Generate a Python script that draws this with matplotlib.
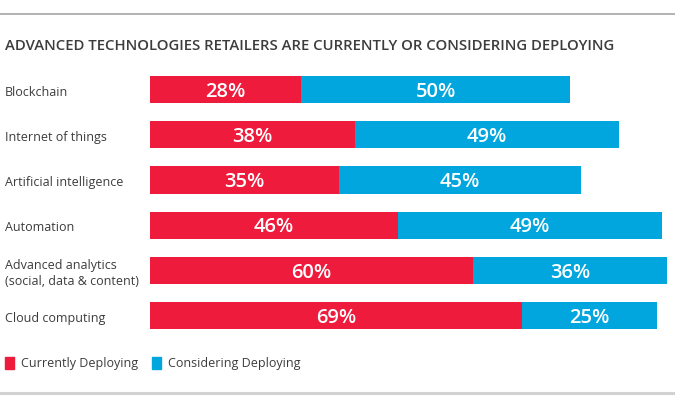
import matplotlib
matplotlib.use("Agg")
from matplotlib import pyplot as plt
from matplotlib.patches import Rectangle
from matplotlib.lines import Line2D

categories = ["Blockchain", "Internet of things", "Artificial intelligence", "Automation",
              "Advanced analytics\n(social, data & content)", "Cloud computing"]
current = [28, 38, 35, 46, 60, 69]
considering = [50, 49, 45, 49, 36, 25]
series_names = ["Currently Deploying", "Considering Deploying"]
title = "ADVANCED TECHNOLOGIES RETAILERS ARE CURRENTLY OR CONSIDERING DEPLOYING"

red = "#ee1b3c"
blue = "#00a6dd"
dark = "#3c3c3c"
plt.rcParams['font.family'] = ['Open Sans', 'DejaVu Sans']

W, H = 675, 407
fig = plt.figure(figsize=(W / 100, H / 100), dpi=100)

# axes placed in pixel terms: left edge at 150 px, bar rows 45.2 px apart
top_px, row_px = 67, 45.2
ax = fig.add_axes([150 / W, 1 - (top_px + 6 * row_px) / H, (W - 150) / W, 6 * row_px / H])
ax.set_xlim(0, (W - 150) / 5.39)
ax.set_ylim(5.5, -0.5)
ax.axis("off")

ys = range(len(categories))
ax.barh(ys, current, height=0.6, color=red, edgecolor="none")
ax.barh(ys, considering, left=current, height=0.6, color=blue, edgecolor="none")
for y, a, b in zip(ys, current, considering):
    ax.text(a / 2, y + 0.05, f"{a}%", color="white", fontsize=14.5, fontweight="semibold",
            ha="center", va="center")
    ax.text(a + b / 2, y + 0.05, f"{b}%", color="white", fontsize=14.5, fontweight="semibold",
            ha="center", va="center")
    ax.text(-145 / 5.39, y + 0.06, categories[y], color=dark, fontsize=9, ha="left", va="center",
            linespacing=1.3, clip_on=False)

fig.text(5 / W, 1 - 46 / H, title, color=dark, fontsize=10.7, fontweight="semibold",
         ha="left", va="center")

# legend
for x0, col, name in [(5, red, series_names[0]), (152, blue, series_names[1])]:
    fig.patches.append(Rectangle((x0 / W, 1 - 369 / H), 9 / W, 12 / H, color=col,
                                 transform=fig.transFigure))
    fig.text((x0 + 16) / W, 1 - 364 / H, name, color=dark, fontsize=9, ha="left", va="center")

fig.lines.append(Line2D([0, 1], [1 - 14 / H, 1 - 14 / H], color="#a6a6a6", lw=1.2,
                        transform=fig.transFigure))
fig.lines.append(Line2D([0, 1], [1 - 393 / H, 1 - 393 / H], color="#d2d2d2", lw=2.2,
                        transform=fig.transFigure))

fig.savefig("out.png", dpi=100, facecolor="white")
